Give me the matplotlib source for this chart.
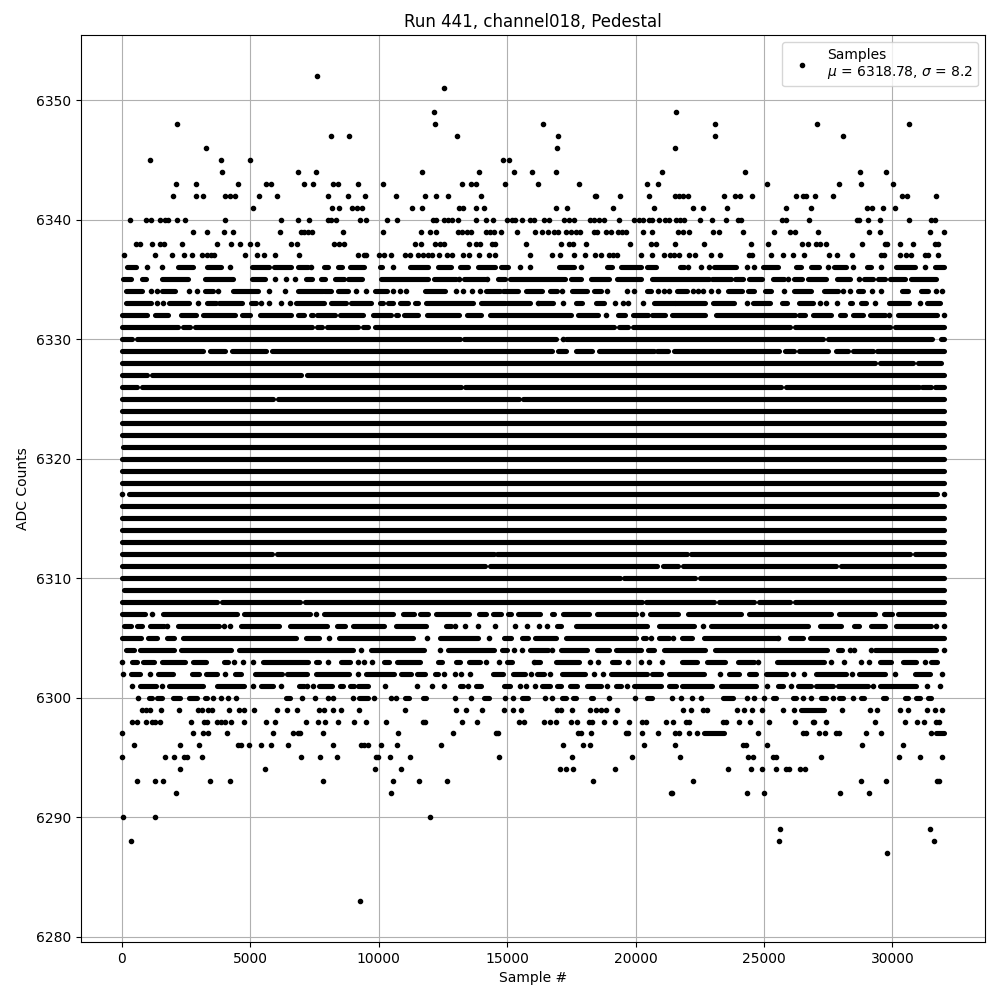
import matplotlib
matplotlib.use("Agg")
from matplotlib import pyplot as plt

# values, one row per ADC level
# a plain number is one sample #, a (start, end) pair is a stretch where the dots merge
high_levels = [6352, 6351, 6349, 6348, 6347, 6346, 6345, 6344, 6343, 6342, 6341, 6340, 6339, 6338, 6337]
high_samples = [
    [7600],
    [12540],
    [12150, 21565],
    [2150, 12190, 16390, 23080, 27050, 30630],
    [8145, 8845, 13050, 16975, 23080, 28060],
    [3280, 16935, 21525],
    [1100, 3865, 4990, 14825, 15060],
    [3900, 6860, 7560, 11690, 13900, 15265, 15975, 16895, 21020, 24250, 28725, 29735],
    [2115, 2905, 4525, 5615, 5810, 7110, 7445, 8225, 8420, 9195, 10170, 13240, 13580, 13790, 14915, 16195, 17790,
     20435, 20865, 25105, 27905, 28765, 30010],
    [2000, 2905, 3165, 4020, 4200, 4410, 5345, 6045, 8030, 8805, 9470, 10675, 11800, 12230, 12700, 13980, 18415,
     18450, 19385, 20515, 21525, 21680, 21835, 22030, 23430, 23860, 24055, 24520, 26235, 26505, 26625, 26975, 27675,
     30360, 30550, 31680],
    [5110, 8185, 8455, 8960, 9155, 9350, 11295, 11685, 13125, 13280, 13790, 14100, 16895, 17325, 19115, 20710, 22225,
     22615, 23550, 25845, 26820, 28995, 29190, 29620, 30085],
    [325, 945, 1140, 1490, 1685, 1800, 2150, 2475, 4020, 6200, 6860, 7290, 8030, 8145, 8340, 9275, 9505, 10325, 10715,
     12115, 12230, 12540, 12700, 12850, 13085, 13790, 14175, 14450, 14990, 15190, 15305, 15575, 15890, 16040, 16430,
     16625, 17210, 17405, 17600, 18225, 18380, 18575, 18770, 19355, 19940, 20135, 20290, 20525, 20655, 20915, 21150,
     21305, 21580, 21735, 21890, 22515, 22980, 23530, 23995, 24115, 25710, 25870, 26765, 28600, 28715, 29065, 29495,
     30625, 31485, 31640],
    [2780, 3330, 3990, 4340, 6175, 6990, 7110, 7270, 7420, 8630, 10190, 11670, 11990, 12220, 13080, 13230, 13430,
     13590, 14170, 14330, 14480, 14780, 15380, 16080, 16365, 16585, 16820, 16975, 17275, 17470, 17665, 17835, 18380,
     18485, 18850, 19030, 19315, 19485, 19640, 20290, 20640, 21655, 21850, 22085, 23020, 23230, 24190, 25400, 26025,
     26220, 27115, 29105, 29495, 31445, 31990],
    [560, 715, 1180, 1495, 1650, 2350, 3720, 4265, 4615, 5005, 5280, 6600, 6840, 8280, 8475, 8670, 11400, 11635, 12180,
     12380, 12530, 13500, 13780, 13935, 14400, 14520, 15730, 17105, 17405, 17560, 18070, 19800, 20600, 20785, 21540,
     22670, 24500, 25165, 26490, 26725, 27025, 27195, 27400, 28795, 29690, 29780, 30275, 30780, 31640, 31770],
    [90, 1300, 1960, 2430, 2740, 3130, 3330, 3485, 3600, 4810, 5280, 5550, 5980, 6915, 9215, 9450, 9530, 10000, 10230,
     10500, 11010, 11205, 11520, 11710, 11910, 12075, 12340, 12650, 12840, 13270, 13500, 13900, 14290, 14520, 15890,
     16740, 17055, 17600, 18030, 18420, 18650, 18965, 19135, 19265, 20225, 20640, 21100, 21345, 21500, 21695, 22085,
     22320, 22945, 23295, 24425, 24530, 25285, 25750, 26140, 26570, 27545, 27855, 28405, 29560, 29665, 30275, 30535,
     30730, 31250, 31380, 31760],
]

upper_levels = [6336, 6335, 6334, 6333, 6332, 6331, 6330, 6329, 6328, 6327, 6326, 6325]
upper_samples = [
    [(195, 545), 990, 1570, (2200, 2780), (3330, 3870), 4225, (5080, 5740), (5940, 6590), (6850, 7240), 7380,
     (7890, 8020), (8440, 8570), (8870, 9450), (10040, 10130), 10580, (11210, 11920), (12310, 12830), (13160, 13480),
     (13870, 14520), (14780, 15040), 15500, 15910, (17015, 17600), 17870, (18900, 19100), (19420, 20200),
     (20460, 20785), (21735, 21890), 22050, 22550, 22865, (23060, 23900), 24350, 24620, (24945, 25530), (26250, 26440),
     (26830, 27155), 27480, (27740, 28200), 28480, (29015, 29170), 29535, (30145, 30860), 31250, (31665, 32000)],
    [(65, 350), (800, 935), (1560, 2580), (3250, 4340), (5070, 5580), 5980, 6380, 6730, (7175, 7400), (7760, 7920),
     (8320, 8670), (8800, 9350), (10100, 11920), (12150, 13000), 13130, (13330, 14130), 14235, (14650, 14910),
     (15110, 17250), (17500, 17860), (18250, 18960), (19270, 20220), (20650, 22865), (22995, 23710), (23870, 24165),
     (24425, 24905), (25335, 25790), 25945, (26180, 26470), (26700, 27415), (27830, 28350), 28715, (28910, 29235),
     (29430, 29720), (29885, 30470), (30730, 31705)],
    [(160, 810), 1160, 1365, (1590, 2070), 2625, 2940, (3240, 3540), 3760, (4320, 5290), 5735, 6370, (6850, 7830),
     (7890, 8150), (8440, 8800), 9140, 9530, (9870, 10330), 10560, 10820, 11080, (11790, 12570), 13000, 13290, 13640,
     13940, (14200, 14720), (14850, 15430), (15720, 16365), (16660, 16925), 17130, (17535, 18120), (18400, 18670),
     18900, 19670, 19940, (20460, 20615), 20880, 21110, 21305, (21630, 22020), 22250, 22450, 22630, 22930, 23215,
     (23580, 24125), (24360, 24620), (25050, 25270), 25790, (26180, 26830), (27350, 27870), 28065, 28365,
     (28650, 28845), 29220, 29560, (30365, 30600), (31120, 31380), 31690, 31915],
    [(155, 1130), 1365, 1600, (1850, 2625), 2975, (3340, 3670), (3800, 4700), (5030, 5225), 5435, 5720, 6215, 6540,
     (6790, 7890), (8150, 8740), (8930, 9710), (10040, 10170), (10360, 10560), (10820, 11140), (11400, 11530),
     (11860, 13680), (14000, 14910), (15015, 15890), 16200, (16250, 16800), 17160, (17680, 17900), (18470, 18785),
     19215, 19500, 19720, 20305, (20710, 21540), (21540, 22720), (23020, 23825), 24320, (24580, 25220), (25685, 25905),
     (26360, 26905), 27180, 27400, 27856, (28350, 28440), (28790, 28960), 29310, (29870, 30640), 31080, (31340, 31860)],
    [(0, 1000), (1300, 1800), (2310, 2900), (3180, 4430), (4700, 5000), (5400, 6600), (6850, 7100), (7360, 7430),
     (7620, 8300), (8500, 9400), (9790, 10490), (10670, 10750), (11000, 11550), (11870, 13120), (13430, 14000),
     (14340, 17480), (17750, 18550), 18850, (19300, 19600), (19900, 20500), (20650, 21140), (21400, 22700),
     (23150, 26200), (26350, 26600), (26900, 27620), (27940, 28150), (28480, 28870), (29120, 29700), 29870,
     (30230, 31720), 32000],
    [(0, 2200), (2400, 2680), (2860, 7400), (7600, 7800), (8000, 9200), (9400, 9600), (9850, 19150), (19370, 19700),
     (19900, 26000), (26200, 29900), (30100, 32000)],
    [(0, 400), (590, 13170), (13310, 16900), 17170, (17300, 27300), (27500, 31550), (31900, 32000)],
    [(0, 3150), (3440, 4030), (4290, 5600), (5850, 16750), (16970, 17300), (17700, 18300), (18560, 20700),
     (20850, 21250), (21500, 25600), (25830, 26150), (26350, 27500), (27800, 28250), (28450, 29230), (29400, 32000)],
    [(0, 29300), (29500, 30800), (31000, 31900)],
    [(0, 1000), (1190, 7000), (7200, 32000)],
    [(0, 600), (800, 13200), (13350, 25650), (25850, 31050), (31150, 31500), (31650, 32000)],
    [(0, 5900), (6070, 15480), (15640, 32000)],
]

# rows with no visible gap
solid_levels = [6324, 6323, 6322, 6321, 6320, 6319, 6318, 6316, 6315, 6314, 6313, 6309]
solid_start = [0, 0, 0, 50, 0, 0, 0, 0, 0, 0, 0, 90]
solid_end = [32000, 32000, 32000, 32000, 32000, 32000, 32000, 32000, 32000, 32000, 32000, 32000]

lower_levels = [6317, 6312, 6311, 6310, 6308, 6307, 6306, 6305, 6304, 6303, 6302, 6301, 6300]
lower_samples = [
    [0, (280, 31750), 32000],
    [(0, 5850), (6030, 14480), (14620, 22000), (22150, 30700), (30880, 32000)],
    [(0, 14150), (14350, 20850), (21080, 21650), (21850, 27800), (28000, 32000)],
    [(0, 19400), (19570, 22330), (22520, 32000)],
    [(0, 3700), (3900, 6950), (7120, 20250), (20400, 23070), (23250, 24600), (24800, 26030), (26200, 32000)],
    [(0, 900), 1200, (1600, 4480), (4750, 7330), 7570, (7870, 10580), (10960, 11370), (11610, 11930), (12250, 13520),
     (13920, 14170), (14470, 14750), (15050, 15170), (15440, 16280), (16740, 16840), (17170, 18200), (18500, 20010),
     20250, (20580, 21660), (22040, 24090), (24400, 27600), (27930, 29310), (29650, 30000), (30230, 32000)],
    [(90, 350), (600, 800), (1100, 1650), 1780, (2210, 3800), 3990, 4225, (4630, 6130), (6560, 7980), (8400, 8700),
     (9000, 10200), (10660, 11850), (12620, 12830), 12990, 13350, 13870, 14520, 15300, 15760, 16235, 16560,
     (16950, 17100), (17700, 20460), (20900, 22280), 22630, (22930, 26700), (27190, 28000), (28500, 28700),
     (29170, 29690), (30145, 31510), 31680, 32000],
    [(0, 750), (1040, 1370), (1760, 2050), (2400, 6800), (7190, 7700), 8060, (8450, 11350), 11880, (12400, 13850),
     14300, (14900, 15150), (15600, 15800), (16100, 16900), (17300, 20000), (20300, 20400), 20590, (20910, 21300),
     21460, (21800, 22180), (22650, 25500), 25550, (26000, 26500), (26800, 32000)],
    [(190, 470), (700, 2050), (2300, 4250), (4550, 9000), 9330, (9700, 11750), 12400, (12700, 14500), (14800, 15000),
     15280, 15580, (15910, 16600), 16755, (17100, 18100), (18500, 18950), (19250, 20200), (20500, 20700),
     (21100, 22700), (23100, 27450), (27880, 28050), 28340, 28500, 29170, (29300, 31700), 32000],
    [30, (400, 600), (850, 1250), (1560, 2480), (2780, 3300), (3970, 4150), 4380, 4730, 5100, (5500, 7250),
     (7550, 7700), 8050, (8550, 8900), 9200, 9450, 9740, (10230, 10400), (10700, 11600), (12300, 12450), (13000, 13150),
     (13500, 13950), 14200, 14680, (15000, 15200), (16100, 16300), 16065, (16900, 17800), 18220, 18550, (19100, 19350),
     19710, 20225, 20525, 21045, (21800, 22400), (22800, 23500), (24000, 24600), 24750, (25500, 27350), 27600, 28130,
     28780, 29100, (29500, 29950), (30400, 30900), 31250, (31500, 31750)],
    [70, (350, 700), 1100, (1400, 2000), (2750, 3000), (3280, 3700), 4040, (4400, 4650), (5200, 6250), (6450, 7200),
     (7550, 8850), 9200, (9500, 10600), (10880, 11270), (11500, 11800), (12200, 12300), 12530, 12960, 13200, 13550,
     (14450, 14850), (15230, 15700), 15950, (16170, 16430), 16690, (17150, 18050), 18400, 18730, (19030, 20460),
     (20650, 20980), (21300, 22670), 23290, (23650, 24035), (24425, 24685), (25075, 25855), 26115, 26570,
     (27025, 28195), 28430, (28715, 29690), 30100, (30860, 31445), 31925],
    [400, (710, 1330), 1570, (1850, 3150), (3730, 4770), 5130, (5420, 5880), 6210, (6920, 7100), 7200, 7460,
     (7700, 8200), (8480, 8600), (8870, 9060), (9200, 9580), 10260, 11490, 12060, 12530, (13160, 13290), 13480,
     (13800, 14000), (14900, 15100), 15520, 15720, 16080, (16370, 16690), (16950, 17100), (17450, 17730), (18120, 18640),
     18890, (19225, 19420), 19680, (19940, 20980), (21300, 21565), (21825, 22995), (23320, 24685), 25100, (25530, 25725),
     26050, (26310, 26830), (27025, 27675), (27870, 29040), 29260, (29500, 30925), 31340, 31850],
    [640, (1070, 1200), (1390, 1590), (2010, 2270), (2630, 2950), (3240, 3340), 3560, 3880, 4140, 4460, (6400, 6550),
     7030, 7540, 8020, 8240, 9000, (9250, 9580), 9840, 10470, 10690, (11040, 11170), (11730, 11860), 12960, 13590,
     (14100, 14290), 14910, 15250, (15590, 15800), 16470, 16755, (17150, 17275), (17575, 17700), (18250, 18350), 18965,
     19980, (20460, 20655), 21420, 21775, 22200, 22550, (23385, 23775), 24350, 24620, 25010, (25335, 25465),
     (26115, 26245), 26530, 26840, (27220, 27415), 27675, (27935, 28065), 28455, (28780, 28910), (29625, 29755),
     (30500, 30600), (30925, 31055), (31380, 31510)],
]

low_levels = [6299, 6298, 6297, 6296, 6295, 6294, 6293, 6292, 6290, 6289, 6288, 6287, 6283]
low_samples = [
    [790, 950, 1100, 1530, 2220, 2980, 3130, 3370, 3510, 4190, 4580, 4750, 5140, 6060, 6450, 6840, 7700, 7890, 8220,
     8520, 9220, 11010, 13000, 13390, 14010, 14870, 15220, 15530, 16950, 17080, 17520, 18220, 18480, 18670, 18840,
     19280, 21840, 22150, 22610, 22800, 23960, 24230, 24540, 24930, 25725, 26180, (26440, 27350), 28050, 29130, 29380,
     30300, 30600, 31330, 31670, 31915],
    [400, 600, 950, 1180, 1300, 1490, 2700, 3210, 3310, 3720, 3870, 4030, 4250, 4770, 5630, 5980, 7190, 7660, 7930,
     8440, 9060, 9530, 10270, 11710, 11820, 13230, 13820, 15460, 15650, 16430, 16665, 16900, 17500, 17730, 18185, 18315,
     18780, 19200, 19745, 20265, 20395, 21190, 21460, 21955, 22085, 23385, 23515, 24035, 24465, 25205, 26220, 26895,
     26960, 27430, 29300, 30470, 30940, 31210, 31680, 31800],
    [30, 2780, 3170, 3370, 4110, 5900, 6680, 6880, 6960, 7850, 10740, 12880, 14560, 14650, 17755, 17885, 18260, 19615,
     19705, 20250, 20875, 21540, 21695, 22085, 22400, (22670, 23450), 24775, 26505, 26635, 27155, 27375, 27805, 27935,
     28950, 29535, 31510, (31705, 32000)],
    [480, 2275, 3015, 4540, 4650, 4965, 5430, 5825, 6485, 8240, 9320, 9450, 9570, 10110, 10735, 12415, 17170, 17950,
     18225, 20330, 21540, 24180, 24310, 25125, 28830, 30390],
    [30, 1690, 2040, 2430, 2560, 3130, 6990, 7730, 8400, 9900, 9970, 10460, 11240, 14675, 17520, 19860, 21735, 24385,
     24580, 25335, 25465, 27230, 30240, 31060, 31915],
    [2275, 5590, 9880, 10855, 17055, 17290, 17560, 19200, 23610, 24500, 24930, 25480, 25855, 25985, 26415, 26610],
    [600, 1300, 1610, 3445, 4225, 7850, 10580, 11560, 12650, 18340, 22240, 28790, 29730, 31745, 31820],
    [2120, 10500, 21370, 21435, 24350, 25010, 27975, 29070],
    [50, 1300, 11990],
    [25635, 31445],
    [365, 25600, 31600],
    [29800],
    [9260],
]

legend_text = "Samples\n$\\mu$ = 6318.78, $\\sigma$ = 8.2"

all_levels = high_levels + upper_levels + lower_levels + low_levels
all_samples = high_samples + upper_samples + lower_samples + low_samples

dot_x = []
dot_y = []
plt.figure(figsize=(10, 10))
for level, row in zip(all_levels, all_samples):
    for s in row:
        if isinstance(s, tuple):
            plt.hlines(level, s[0], s[1], color="k", lw=3.7, capstyle="round", zorder=3)
        else:
            dot_x.append(s)
            dot_y.append(level)
plt.hlines(solid_levels, solid_start, solid_end, color="k", lw=3.7, capstyle="round", zorder=3)

plt.plot(dot_x, dot_y, "k.", label=legend_text, zorder=3)
plt.title("Run 441, channel018, Pedestal")
plt.xlabel("Sample #")
plt.ylabel("ADC Counts")
plt.grid(True)
plt.legend(loc="upper right")
plt.ticklabel_format(useOffset=False, axis="y")
plt.subplots_adjust(left=0.0805, right=0.985, top=0.965, bottom=0.058)
plt.savefig("out.png", dpi=100)
